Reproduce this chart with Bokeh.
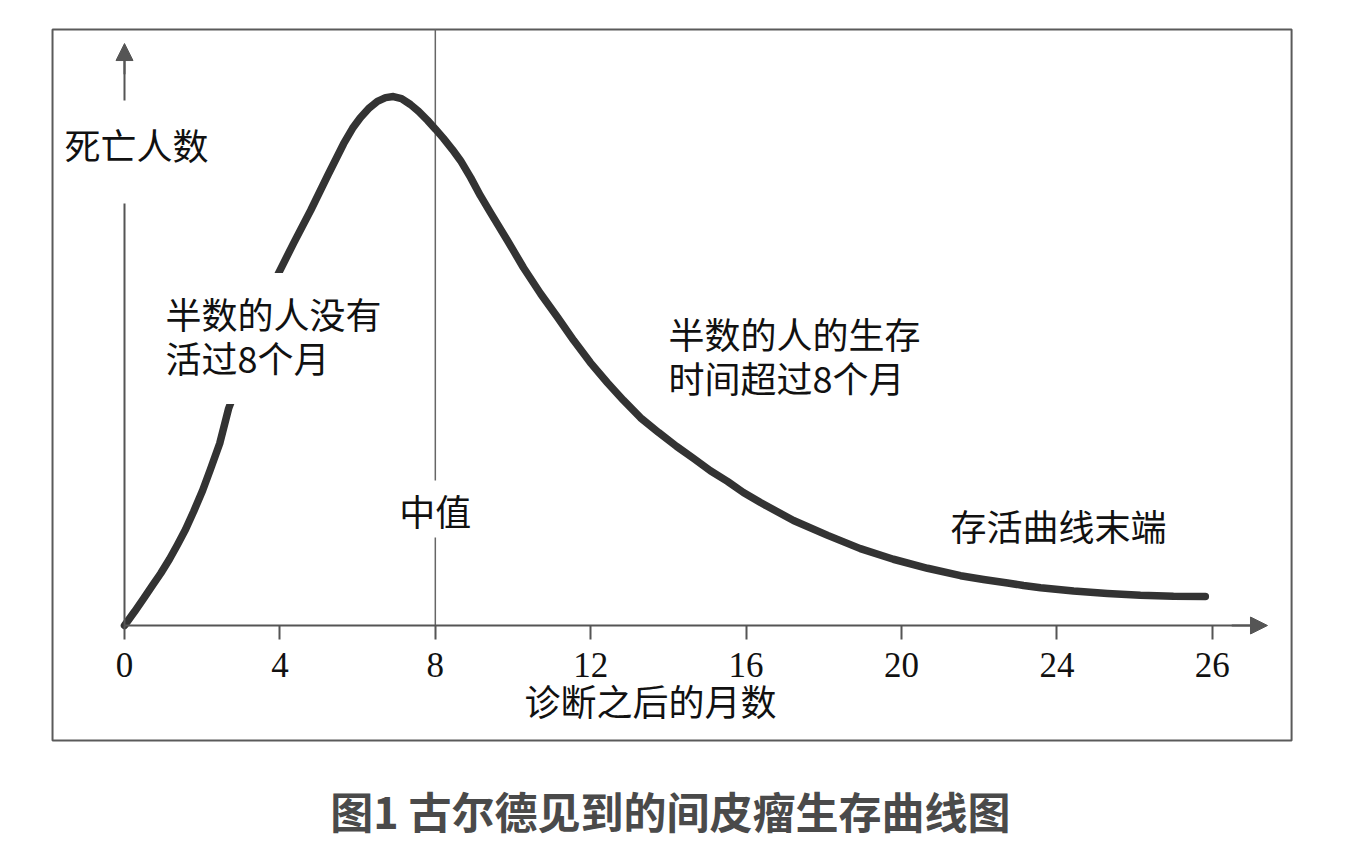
from bokeh.plotting import figure
from bokeh.models import LinearAxis, FixedTicker, Range1d, Label, Arrow, NormalHead, BoxAnnotation
from bokeh.embed import file_html
from bokeh.resources import INLINE

# ---- data (x = drawn month position, y = relative number of deaths) ----
months = [0.0, 0.26, 0.49, 0.72, 0.93, 1.16, 1.36, 1.57, 1.78, 2.01, 2.21, 2.45, 2.68,
          3.11, 3.55, 3.96, 4.35, 4.79, 5.23, 5.64, 5.87, 6.07, 6.28, 6.51, 6.72,
          6.92, 7.13, 7.36, 7.57, 7.80, 8.01, 8.21, 8.44, 8.65, 8.91, 9.16, 9.42,
          9.86, 10.27, 10.71, 11.15, 11.56, 11.99, 12.43, 12.84, 13.28, 13.75, 14.21,
          14.65, 15.08, 15.52, 15.93, 16.37, 17.22, 18.10, 18.94, 19.79, 20.67, 21.52,
          22.11, 22.73, 23.14, 23.58, 24.43, 25.30, 26.15, 27.00, 27.82]
deaths = [0.0, 2.64, 5.09, 7.55, 9.81, 12.55, 15.19, 18.11, 21.51, 25.47, 29.43, 34.34, 40.94,
          49.2, 57.9, 66.4, 72.1, 78.3, 84.9, 90.9, 93.8, 95.8, 97.5, 98.9, 99.6,
          99.8, 99.4, 98.3, 97.0, 95.3, 93.6, 91.9, 89.8, 87.7, 84.5, 81.1, 77.9,
          72.6, 67.5, 62.6, 58.1, 53.8, 49.6, 45.8, 42.5, 39.2, 36.4, 33.8,
          31.5, 29.2, 27.2, 25.1, 23.2, 19.8, 17.0, 14.5, 12.5, 10.8, 9.4,
          8.68, 8.02, 7.55, 7.13, 6.51, 6.04, 5.70, 5.51, 5.47]
tick_positions = [0, 4, 8, 12, 16, 20, 24, 28]
tick_labels = ["0", "4", "8", "12", "16", "20", "24", "26"]
median_month = 8

y_label = "死亡人数"
x_label = "诊断之后的月数"
note_left = "半数的人没有\n活过8个月"
note_median = "中值"
note_right = "半数的人的生存\n时间超过8个月"
note_tail = "存活曲线末端"
caption = "图1 古尔德见到的间皮瘤生存曲线图"

# ---- figure: the plotting frame covers the whole canvas ----
X0, X1 = -3.192, 31.505
Y0, Y1 = -43.96, 117.92
BOX = dict(left=-1.853, right=30.04, top=112.45, bottom=-21.70)   # framed panel

p = figure(width=1348, height=858, output_backend="svg", toolbar_location=None,
           x_axis_type=None, y_axis_type=None,
           x_range=Range1d(X0, X1), y_range=Range1d(Y0, Y1),
           min_border_left=0, min_border_right=0, min_border_top=0, min_border_bottom=0)
p.background_fill_color = "white"
p.border_fill_color = "white"
p.outline_line_color = None

# the rectangular frame around the chart
p.add_layout(BoxAnnotation(**BOX, fill_alpha=0, line_color="#5a5a5a", line_alpha=1.0,
                           line_width=2, level="underlay"))

AX = "#555555"

xaxis = LinearAxis(fixed_location=0, ticker=FixedTicker(ticks=tick_positions),
                   major_label_overrides={t: l for t, l in zip(tick_positions, tick_labels)},
                   bounds=(0, 29.0))
xaxis.axis_line_color = AX
xaxis.axis_line_width = 2
xaxis.major_tick_line_color = AX
xaxis.major_tick_line_width = 2
xaxis.major_tick_out = 14
xaxis.major_tick_in = 0
xaxis.minor_tick_line_color = None
xaxis.major_label_standoff = 13
xaxis.major_label_text_font = "Liberation Serif"
xaxis.major_label_text_font_size = "35px"
xaxis.major_label_text_color = "#111111"
p.add_layout(xaxis, "below")

yaxis = LinearAxis(fixed_location=0, ticker=FixedTicker(ticks=[]), bounds=(0, 108))
yaxis.axis_line_color = AX
yaxis.axis_line_width = 2
yaxis.major_tick_line_color = None
yaxis.minor_tick_line_color = None
yaxis.major_label_text_font_size = "0px"
p.add_layout(yaxis, "left")

# arrows at the axis ends
p.add_layout(Arrow(end=NormalHead(size=17, fill_color=AX, line_color=AX),
                   x_start=28.5, y_start=0, x_end=29.42, y_end=0,
                   line_color=AX, line_width=2))
p.add_layout(Arrow(end=NormalHead(size=17, fill_color=AX, line_color=AX),
                   x_start=0, y_start=104, x_end=0, y_end=109.8,
                   line_color=AX, line_width=2))

# median line
p.segment(x0=[median_month], y0=[0], x1=[median_month], y1=[BOX["top"]],
          line_color="#666666", line_width=1.5)

# survival curve
p.line(months, deaths, line_color="#333333", line_width=7.5,
       line_cap="round", line_join="round")

CJK = "Noto Sans CJK SC"

def lab(text, x, y, align="left", pad=None, size="36px", color="#111111", style="normal"):
    kw = dict(x=x, y=y, text=text, text_align=align, text_baseline="middle",
              text_font=CJK, text_font_size=size, text_color=color,
              text_font_style=style, text_line_height=0.85)
    if pad is not None:
        # padding given as (left, right, top, bottom)
        kw.update(background_fill_color="white", padding=pad)
    p.add_layout(Label(**kw))

lab(y_label, 0.309, 89.34, align="center", pad=(4, 4, 18, 33))
lab(note_left, 1.055, 54.15, align="left", pad=(0, 0, 14, 21))
lab(note_median, 8.0, 21.98, align="center", pad=(0, 0, 3, 2))
lab(note_right, 14.0, 51.0, align="left")
lab(note_tail, 21.26, 18.9, align="left")
lab(x_label, 13.54, -14.0, align="center")
lab(caption, 14.05, -34.9, align="center", size="43px", color="#4a4a4a", style="bold")

open("out.html", "w").write(file_html(p, INLINE))
